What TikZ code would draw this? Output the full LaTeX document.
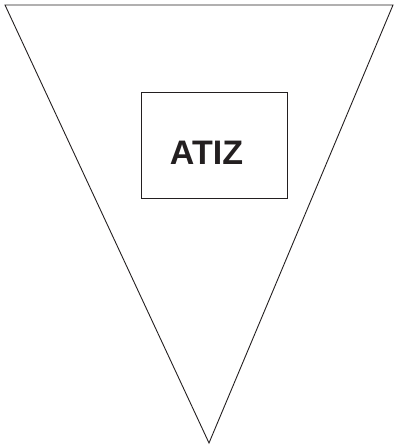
\documentclass[tikz,border=0pt]{standalone}
\usepackage{fontspec}
\setmainfont{Liberation Sans}
\usetikzlibrary{positioning,calc}
\definecolor{ink}{HTML}{231F20}

\begin{document}
\begin{tikzpicture}[x=1pt,y=-1pt,line width=0.9pt]
  \useasboundingbox (0,0) rectangle (396,447);
  \coordinate (tl) at (5,5);
  \coordinate (tr) at (393,5);
  \coordinate (tip) at (209,443);
  \draw[ink,line join=miter] (tl)--(tr)--(tip)--cycle;
  \node[draw=ink,minimum width=146pt,minimum height=106pt,inner sep=0pt] (frame) at (214,145) {};
  \node[text=ink,font=\fontsize{34}{34}\selectfont\bfseries,inner sep=0pt,anchor=base] (label) at (206.5,164) {ATIZ};
\end{tikzpicture}
\end{document}
